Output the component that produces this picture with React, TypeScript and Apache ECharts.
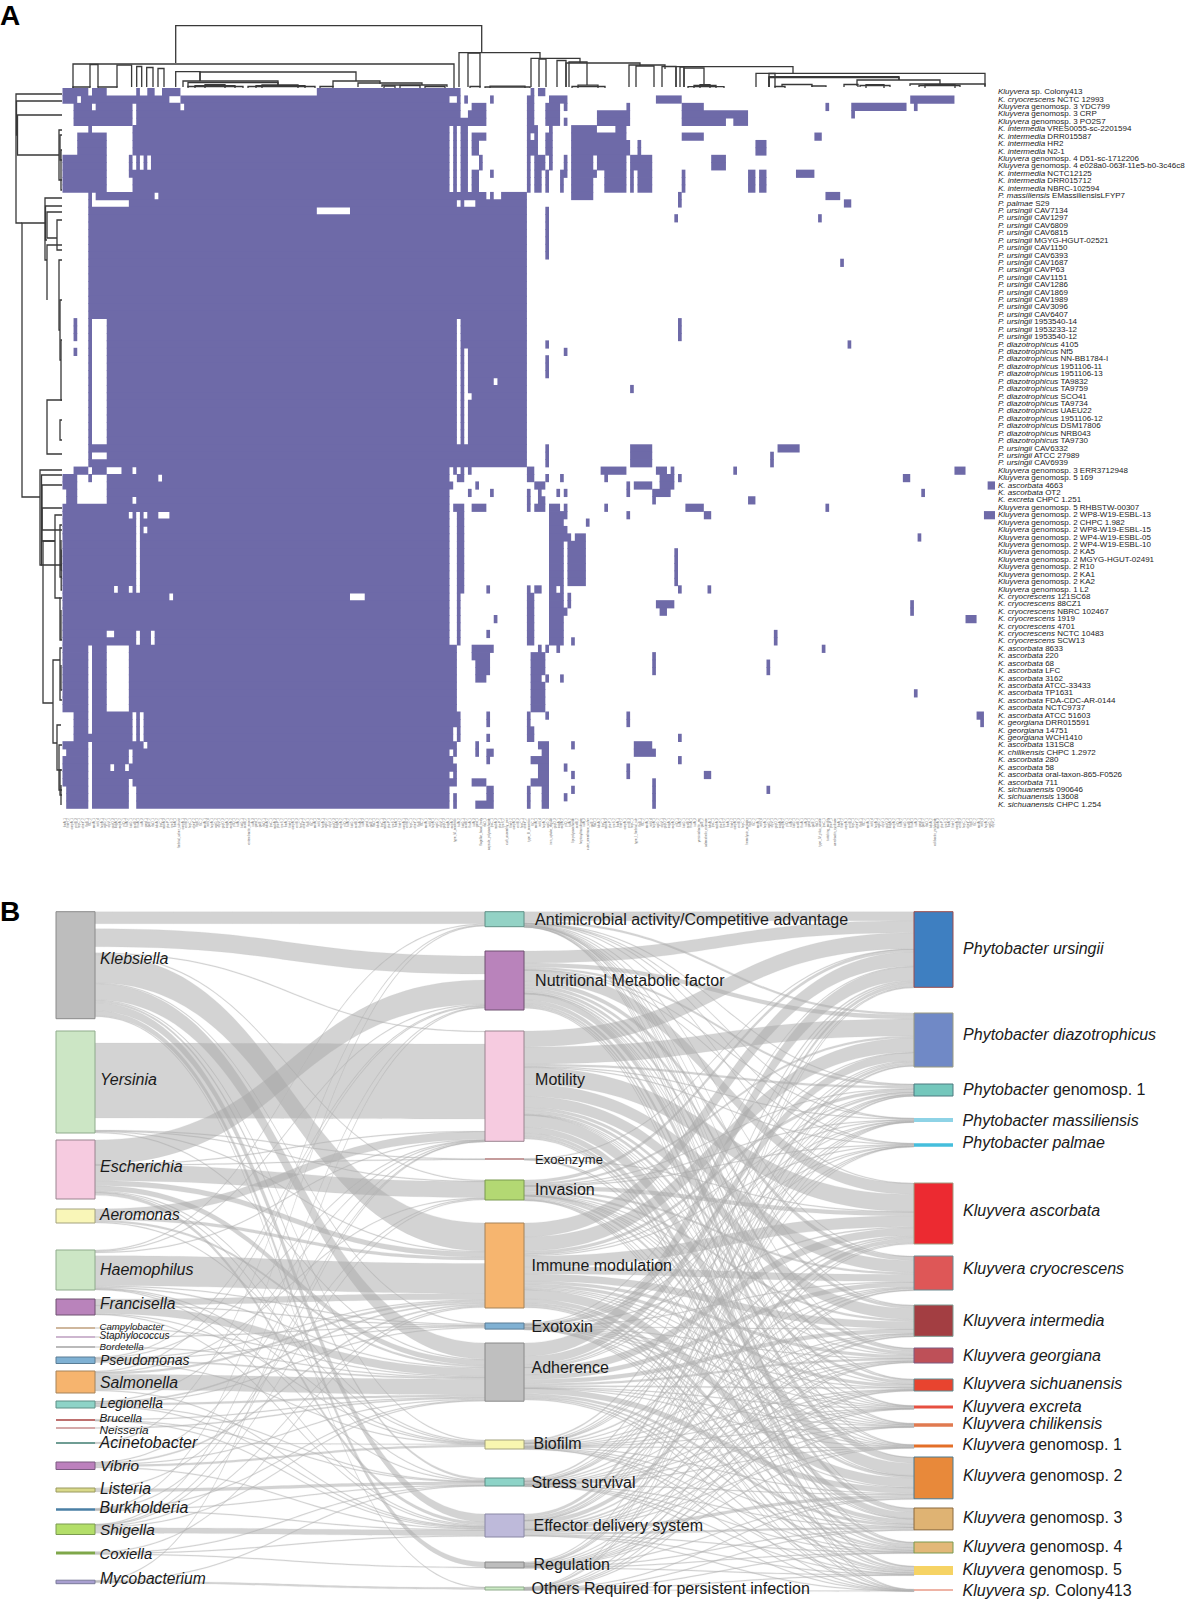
import React, { useEffect, useRef } from "react";
import * as echarts from "echarts";

const FONT = "Liberation Sans";
const HEAT = "#6e6aa8";

/* ---------- Panel A: rows ---------- */
const rowItalic = [
  "Kluyvera","K. cryocrescens","Kluyvera","Kluyvera","Kluyvera","K. intermedia","K. intermedia","K. intermedia","K. intermedia","Kluyvera","Kluyvera","K. intermedia","K. intermedia","K. intermedia","P. massiliensis","P. palmae",
  "P. ursingii","P. ursingii","P. ursingii","P. ursingii","P. ursingii","P. ursingii","P. ursingii","P. ursingii","P. ursingii","P. ursingii","P. ursingii","P. ursingii","P. ursingii","P. ursingii","P. ursingii","P. ursingii","P. ursingii","P. ursingii",
  "P. diazotrophicus","P. diazotrophicus","P. diazotrophicus","P. diazotrophicus","P. diazotrophicus","P. diazotrophicus","P. diazotrophicus","P. diazotrophicus","P. diazotrophicus","P. diazotrophicus","P. diazotrophicus","P. diazotrophicus","P. diazotrophicus","P. diazotrophicus",
  "P. ursingii","P. ursingii","P. ursingii","Kluyvera","Kluyvera","K. ascorbata","K. ascorbata","K. excreta","Kluyvera","Kluyvera","Kluyvera","Kluyvera","Kluyvera","Kluyvera","Kluyvera","Kluyvera","Kluyvera","Kluyvera","Kluyvera","Kluyvera",
  "K. cryocrescens","K. cryocrescens","K. cryocrescens","K. cryocrescens","K. cryocrescens","K. cryocrescens","K. cryocrescens",
  "K. ascorbata","K. ascorbata","K. ascorbata","K. ascorbata","K. ascorbata","K. ascorbata","K. ascorbata","K. ascorbata","K. ascorbata","K. ascorbata",
  "K. georgiana","K. georgiana","K. georgiana","K. ascorbata","K. chilikensis","K. ascorbata","K. ascorbata","K. ascorbata","K. ascorbata","K. sichuanensis","K. sichuanensis","K. sichuanensis",
];
const rowStrain = [
  "sp. Colony413","NCTC 12993","genomosp. 3 YDC799","genomosp. 3 CRP","genomosp. 3 PO2S7","VRES0055-sc-2201594","DRR015587","HR2","N2-1","genomosp. 4 D51-sc-1712206","genomosp. 4 e028a0-063f-11e5-b0-3c46c8","NCTC12125","DRR015712","NBRC-102594","EMassiliensisLFYP7","S29",
  "CAV7134","CAV1297","CAV6809","CAV6815","MGYG-HGUT-02521","CAV1150","CAV6393","CAV1687","CAVP63","CAV1151","CAV1286","CAV1869","CAV1989","CAV3096","CAV6407","1953540-14","1953233-12","1953540-12",
  "4105","Nf5","NN-BB1784-I","1951106-11","1951106-13","TA9832","TA9759","SCO41","TA9734","UAEU22","1951106-12","DSM17806","NRB043","TA9730",
  "CAV6332","ATCC 27989","CAV6939","genomosp. 3 ERR3712948","genomosp. 5 169","4663","OT2","CHPC 1.251","genomosp. 5 RHBSTW-00307","genomosp. 2 WP8-W19-ESBL-13","genomosp. 2 CHPC 1.982","genomosp. 2 WP8-W19-ESBL-15","genomosp. 2 WP4-W19-ESBL-05","genomosp. 2 WP4-W19-ESBL-10","genomosp. 2 KA5","genomosp. 2 MGYG-HGUT-02491","genomosp. 2 R10","genomosp. 2 KA1","genomosp. 2 KA2","genomosp. 1 L2",
  "121SC68","88CZ1","NBRC 102467","1919","4701","NCTC 10483","SCW13",
  "8633","220","68","LFC","3162","ATCC-33433","TP1631","FDA-CDC-AR-0144","NCTC9737","ATCC 51603",
  "DRR015591","14751","WCH1410","131SC8","CHPC 1.2972","280","58","oral-taxon-865-F0526","711","090646","13608","CHPC 1.254",
];

/* Present-gene runs per row, as column index ranges */
const heatRuns = [
  "0-6,8-11,20,23-24,27-31,69-107,127,129-130",
  "0-3,5-28,32-104,107,109,116,126-127,132-136,161-167,230-241",
  "3-7,9-18,20-31,33-107,111-114,126-127,131-134,136,153,168-173,207,214-228,231",
  "3-18,20-107,110-114,126-127,131-134,145-153,168-185,214",
  "3-18,20-114,126-127,131-134,136,145-153,168-179,182-185",
  "7,19-104,106,108-109,126-128,132,138-144,150-152",
  "4-11,19-104,106,108-109,111-114,126,128,131-132,138-152,168-173,204-205",
  "4-11,19-104,106,108-109,111-112,126-128,131-132,138-153,156,188-190",
  "4-11,19-104,106,108-109,111-112,126-128,131-132,138-153,156,188-190",
  "0-11,18,20,22,24-104,106,108-109,113,126,128-130,132,136,138-143,145-152,154-159,176-179",
  "0-11,18,20,22,24-104,106,108-109,113,126,128-130,132,136,138-143,145-152,154-159,176-179",
  "0-11,18-104,106,108-109,111-112,116,126,128-129,131,135-136,138-144,147-152,154,156-159,168,186-187,189-190,199-203",
  "0-11,19-104,106,108-109,111-112,126,128-129,131,135,138-143,147-152,154,156-159,168,186-187,189-190",
  "0-11,19-104,106,108-109,111-112,126,128-129,131,135,138-143,147-152,154,156-159,168,186-187,189-190",
  "7,9-24,26-114,116,119-125,138-143,167,207-210",
  "7,18-106,108,112-125,167,212-213",
  "7-68,78-125,131",
  "7-125,131,166,205",
  "7-125,131","7-125,131","7-125,131","7-125,131","7-125,131",
  "7-125,211",
  "7-125","7-125","7-125","7-125","7-125","7-125","7-125",
  "3,7,12-106,108-125,167","3,7,12-106,108-125,167","3,7,12-106,108-125,167",
  "7,12-106,108-125,131,213",
  "3,7,12-106,108,110-125,136",
  "7,12-106,108,110-125,131","7,12-106,108,110-125,131","7,12-106,108,110-125,131",
  "7,12-106,108,110-116,118-125",
  "7,12-106,108,110-125,154",
  "7,12-106,108,111-125",
  "7,12-106,108,110-125","7,12-106,108,110-125","7,12-106,108,110-125","7,12-106,108,110-125","7,12-106,108,110-125","7,12-106,108,110-125",
  "7-125,131,154-159,194-199",
  "7,12-125,131,154-159,192",
  "7-125,131,154-159,192",
  "3-6,8-11,16-18,20-104,106,108,110,126-127,146-152,161-163,165,182,242-244",
  "0-3,7,12-25,27-104,107-108,126-127,131,135,147,162-165,167,228-229",
  "0-3,12-105,112,128-130,153,155-159,162-165,251-252",
  "1-3,12-104,110,116,126,129,134,136,153,160-164,233",
  "1-3,12-18,20-104,126,129-130,160,186-187",
  "0-104,106-108,111-114,126,128-130,132-134,136,147,169-173,207",
  "0-17,19,21,23-25,29-104,107-108,132-136,153,174-175,250-252",
  "0-19,21-104,107-108,132-135,142",
  "0-19,21,23-104,107-108,132-136",
  "0-19,21-104,107-108,132-137,139-141,232",
  "0-19,21-104,107-108,132-135,137-141",
  "0-19,21-104,107-108,132-135,137-141,166","0-19,21-104,107-108,132-135,137-141,166","0-19,21-104,107-108,132-135,137-141,166","0-19,21-104,107-108,132-135,137-141,166","0-19,21-104,107-108,132-135,137-141,166",
  "0-13,15-17,19,21-104,107-108,115,126,128-129,132-133,135,167,175",
  "0-28,30-77,82-104,107,126-127,132-135,137",
  "0-104,107,126-127,132-135,137,161-165,230",
  "0-104,107,126-127,132-136,162-163,230",
  "0-104,107,117,126-127,132-135,245-247",
  "0-104,107,126-127,132-135",
  "0-11,14-19,21-23,25-104,107,115,126-127,132-135,193",
  "0-19,21-23,25-104,107,126-127,132-135,138,193",
  "0-6,8-11,18-106,111-116,129,131,134,206",
  "0-6,8-11,18-106,111-115,127-130,160",
  "0-6,8-11,18-106,112-115,127-130,160,191",
  "0-6,8-11,18-106,112-115,127-130,160,191",
  "0-6,8-11,18-106,112-114,127-129,131,135",
  "0-6,8-11,18-106,127-130",
  "0-6,8-11,18-106,127-130,231",
  "0-6,8-11,18-106,127-130",
  "0-6,8-11,18-106,127-130",
  "3-6,8-18,20,22-107,115,126,131,153,248-249",
  "3-6,8-18,20,22-107,115,126,153,249",
  "3-6,8-18,20,22-105,107,126-127",
  "3-18,20,22-105,107,115,126-127,167",
  "0-6,8-21,23-106,112,129-131,138,155-159",
  "1-6,8-17,19-104,106,112,115-116,130-131,155-160",
  "0-6,8-17,19-105,115,127-131,167",
  "0-6,8-12,14-16,18-106,129-131,136,153",
  "0-6,8-104,106,129-131,138,153,174-175",
  "0-6,8-17,19-106,111-114,127-131,160",
  "1-6,8-17,20-104,115-116,126,130-131,138,160,191",
  "1-6,8-17,20-104,106,115-116,126,130-131,136,160",
  "1-6,8-17,20-104,106,112-116,126,130-131,160",
];

/* Column labels are illegible in the reference: representative gene names */
const COLUMN_COUNT = 253;
const geneStems = ["fimA_1","fimH_2","ompA_1","entB_3","fepC_1","cheY_2","flgB_1","fliC_2","motA_1","iroN_4","hcpA_1","vgrG_2","clpV_1","gspD_3","csgA_1","ecpA_2","pilQ_1","tufA_2","katG_1","sodB_2","fhuA_1","iutA_3","gmd_1","galE_2","rfaD_1","kdsA_2","lpxC_1","msbA_3","phoP_1","rpoS_2"];
const longGenes: Record<number, string> = {
  31: "fimbrial_usher_subunit", 50: "enterobactin_export", 106: "type_VI_secretion", 113: "flagellar_basal_body", 115: "capsule_polysaccharide", 120: "curli_assembly_prot", 126: "type_III_secretion", 132: "iron_uptake_regulat",
  138: "lipopolysaccharide", 140: "heptosyltransferase", 142: "outer_membrane_usher", 155: "type_I_fimbrial_sub", 172: "yersiniabactin_rec", 174: "salmochelin_esterase", 185: "hemolysin_activator", 205: "type_IV_pilus_assem", 207: "twitching_motility", 209: "aerobactin_synthase", 236: "colibactin_polyketide",
};
const geneColumns = Array.from({ length: COLUMN_COUNT }, (_, i) => longGenes[i] || geneStems[i % geneStems.length]);

/* Dendrograms. Each merge: [leaf position 1, height 1, leaf position 2, height 2, merge height] */
const topMerges = [
  [175.7,25,481.7,35.3,62.3],[73,0,454,0,24],[90,1,98,1,23.5],[117,1,131.6,1,22.8],[136.7,1,141.7,1,21.5],[146.7,1,153,1,20.5],[158,1,164,1,19.5],[175.7,1,200,7,16.3],[200,7,356,7,16],
  [183,1,278,3,7],[188,1,278,3,5.5],[188,0,243,0,1.5],[195,0,235,0,2.4],[205,0,225,0,3.4],[248,0,315,0,1.5],[256,0,305,0,2.4],[262,0,298,0,3.2],[320,0,333,0,1.5],
  [333,1,380,4,7],[358,1,422,3,5],[382,1,447,1,3],[384,0,395,0,2],[400,0,420,0,2.5],[425,0,445,0,1.5],
  [73,0,90,0,1],[98,0,117,0,1],[459,1,540,30,35.3],[468,1,480,1,35],[470,0,480,0,1.5],[485,0,530,0,1],[490,0,525,0,1.8],
  [531,1,580,25,29.7],[539,1,546,1,29],[557,1,566,1,27.5],[569,1,587,3,26],[566,1,640,22,25],[572,0,605,0,1.5],[578,0,598,0,2.8],
  [629,1,665,19,23],[636,1,654,1,22],[662,1,676,1,21.5],[676,1,793,15,21.3],[680,1,684,1,21],[684,1,704,3,20],[688,0,724,0,1.3],[694,0,716,0,2.6],[700,0,710,0,3.4],
  [756,1,985,1,14.7],[769,1,775,1,14.5],[769,1,899,8,11.3],[769,1,899,8,10.4],[857,2,940,2,8],[844,1,858,1,3.5],[910,2,985,2,4],[919,1,960,1,2.5],[925,0,955,0,3.4],[860,1,890,1,2.5],[866,0,884,0,3.4],[782,1,812,1,3.5],[812,1,826,1,2],[775,0,785,0,1.5],
];
/* Each merge: [row position 1, distance 1, row position 2, distance 2, merge distance] */
const leftMerges = [
  [94,62,223,22,16],[101,62,135,17.5,16.5],[115,62,155,59,17.5],[130,62,180,62,59],[135,62,160,62,60],[150,62,190,62,61],
  [223,45,497,40,22],[198,62,260,47,45],[206,62,240,47,45.5],[212,62,238,57,47],[220,62,250,62,57],[245,62,300,47,47],[260,62,330,60,59],[300,62,360,61,60],[340,62,400,62,61],
  [400,62,454,62,47],[420,62,440,62,60],[470,62,565,42,40],[475,62,565,62,41.5],[485,62,541,55,42],[508,62,530,62,42],
  [541,55,703,53,43],[515,62,598,60,55],[525,62,577,62,60],[540,61,570,62,61],[550,61.5,590,62,61.2],[598,62,640,62,60],[610,61,640,61,61],
  [660,60,743,57,53],[648,62,700,62,60],[665,61,690,62,61],[725,61,770,61,57],[745,62,790,62,59],[770,62,795,62,60],[785,61,805,61,61],
];

/* ---------- Panel B: nodes ---------- */
const genera = ["Klebsiella","Yersinia","Escherichia","Aeromonas","Haemophilus","Francisella","Campylobacter","Staphylococcus","Bordetella","Pseudomonas","Salmonella","Legionella","Brucella","Neisseria","Acinetobacter","Vibrio","Listeria","Burkholderia","Shigella","Coxiella","Mycobacterium"];
const generaValues = [107,102,59,14,40,16,0.8,0.8,0.8,6.5,22,7,1.5,1.2,1.5,7.5,4,2.5,10.5,3,3.5];
const functions = ["Antimicrobial activity/Competitive advantage","Nutritional Metabolic factor","Motility","Exoenzyme","Invasion","Immune modulation","Exotoxin","Adherence","Biofilm","Stress survival","Effector delivery system","Regulation","Others Required for persistent infection"];
const functionValues = [15,59,110,1,20,85,6,58,9,8,23,6,3];
const species = ["Phytobacter ursingii","Phytobacter diazotrophicus","Phytobacter genomosp. 1","Phytobacter massiliensis","Phytobacter palmae","Kluyvera ascorbata","Kluyvera cryocrescens","Kluyvera intermedia","Kluyvera georgiana","Kluyvera sichuanensis","Kluyvera excreta","Kluyvera chilikensis","Kluyvera genomosp. 1","Kluyvera genomosp. 2","Kluyvera genomosp. 3","Kluyvera genomosp. 4","Kluyvera genomosp. 5","Kluyvera sp. Colony413"];
const speciesValues = [75,54,12,4,3.5,61,34,31,15,12,3,3.5,3,41,21,11,9,1.5];

/* genus -> function flows; the fourth entry marks an unpainted offset inside a node */
const [ANT,NUT,MOT,EXE,INV,IMM,EXT,ADH,BIO,STR,EFF,REG,OTH] = functions;
const genusFlows: [string,string,number,number?][] = [
  ["Klebsiella",ANT,12],["Klebsiella",NUT,5,1],["Klebsiella",NUT,18],["Klebsiella",NUT,6,1],["Klebsiella",MOT,1],["Klebsiella",INV,1],["Klebsiella",IMM,28],["Klebsiella",EXT,1],["Klebsiella",ADH,16],["Klebsiella",BIO,1],["Klebsiella",STR,2],["Klebsiella",EFF,8],["Klebsiella",REG,5],["Klebsiella",OTH,0.5],
  ["Yersinia",MOT,12,1],["Yersinia",MOT,75],["Yersinia",MOT,12,1],["Yersinia",EXE,0.5],["Yersinia",INV,0.5],["Yersinia",IMM,1],["Yersinia",ADH,1],
  ["Escherichia",NUT,24],["Escherichia",MOT,0.5],["Escherichia",EXE,0.3],["Escherichia",INV,16],["Escherichia",IMM,5],["Escherichia",ADH,5],["Escherichia",BIO,1],["Escherichia",STR,0.5],["Escherichia",EFF,3],
  ["Aeromonas",MOT,8],["Aeromonas",IMM,3],["Aeromonas",ADH,2],["Aeromonas",BIO,0.5],
  ["Haemophilus",ANT,1],["Haemophilus",NUT,1],["Haemophilus",MOT,0.3],["Haemophilus",IMM,3.5,1],["Haemophilus",IMM,30],["Haemophilus",EXT,1],["Haemophilus",ADH,1.2],["Haemophilus",BIO,0.5],["Haemophilus",STR,0.5],["Haemophilus",EFF,1],
  ["Francisella",IMM,6],["Francisella",EXT,0.5],["Francisella",ADH,8],["Francisella",BIO,0.5],["Francisella",EFF,0.5],
  ["Campylobacter",ADH,0.8],["Staphylococcus",EXT,0.8],["Bordetella",ADH,0.8],
  ["Pseudomonas",NUT,0.8],["Pseudomonas",MOT,0.3],["Pseudomonas",IMM,1],["Pseudomonas",EXT,1],["Pseudomonas",ADH,1.5],["Pseudomonas",BIO,0.5],
  ["Salmonella",NUT,1],["Salmonella",INV,0.5],["Salmonella",IMM,2],["Salmonella",ADH,15.5],["Salmonella",EFF,0.5],
  ["Legionella",MOT,0.3],["Legionella",IMM,1.5],["Legionella",EXT,0.5],["Legionella",ADH,2],["Legionella",STR,0.5],["Legionella",EFF,1],
  ["Brucella",ADH,0.7],["Brucella",STR,0.3],["Brucella",EFF,0.5],["Neisseria",ADH,1.2],
  ["Acinetobacter",ANT,0.5],["Acinetobacter",BIO,1],
  ["Vibrio",MOT,0.5],["Vibrio",IMM,1.5],["Vibrio",ADH,1],["Vibrio",BIO,2],["Vibrio",EFF,1],
  ["Listeria",INV,1],["Listeria",STR,3],
  ["Burkholderia",ANT,0.5],["Burkholderia",MOT,0.2],["Burkholderia",ADH,0.5],["Burkholderia",STR,0.3],["Burkholderia",EFF,0.5],
  ["Shigella",NUT,0.5],["Shigella",MOT,0.2],["Shigella",INV,1],["Shigella",IMM,1],["Shigella",ADH,1],["Shigella",EFF,5.5],
  ["Coxiella",IMM,1],["Coxiella",STR,0.3],["Coxiella",EFF,1],["Coxiella",REG,0.5],
  ["Mycobacterium",NUT,0.5],["Mycobacterium",STR,0.3],["Mycobacterium",OTH,2],
];

/* function -> species flows, rows follow `functions`, columns follow `species` */
const functionFlows = [
  [9,2,0.3,0.1,0.1,0.5,0.5,0.5,0.3,0.2,0.1,0.1,0.1,0.4,0.3,0.2,0.2,0.1],
  [12,4,2,0.5,0.5,11,4,3,3,1.5,0.3,0.5,0.4,6,4,2,1.5,0.2],
  [16,17,2,0.8,0.5,17,12,11,3,3,0.6,0.6,0.6,12,6,3,2,0.3],
  [0.2,0,0,0,0,0.3,0,0,0,0,0,0,0,0.3,0.2,0,0,0],
  [3,2,0.5,0.1,0.1,4,2,2,0.8,0.5,0.1,0.2,0.1,2.5,1,0.5,0.5,0.1],
  [14,14,3,1,1,11,7,7,3,3,1,1,0.8,9,4,2,2,0.2],
  [0.8,0.5,0.2,0.1,0.1,1.2,0.5,0.5,0.2,0.2,0.1,0.1,0.1,0.6,0.4,0.2,0.2,0.1],
  [13.5,8,2,0.6,0.4,7.5,4.5,4,2,1.5,0.4,0.5,0.4,5.5,2.5,1.5,1.2,0.2],
  [1.5,1,0.3,0.1,0.1,1.5,0.8,0.6,0.3,0.3,0.1,0.1,0.1,0.8,0.5,0.3,0.2,0.1],
  [1.5,1,0.3,0.1,0.1,1.2,0.6,0.6,0.3,0.2,0.1,0.1,0.1,0.8,0.4,0.2,0.2,0.1],
  [3,2.5,0.6,0.2,0.2,4,1.5,1.5,0.8,0.6,0.2,0.2,0.2,3,2,0.5,0.5,0.1],
  [0.8,0.6,0.2,0.1,0,1,0.4,0.4,0.2,0.2,0.1,0.1,0.1,0.6,0.4,0.2,0.2,0],
  [0.3,0.3,0.1,0,0,0.5,0.2,0.2,0.1,0.1,0,0,0,0.3,0.2,0.1,0.1,0.1],
];

/* Layout and style of the nodes, kept apart from the values */
const SANKEY_TOP = 911.7, SANKEY_H = 680;
const generaTops = [911.7,1031,1140,1209,1250,1299,1327.6,1336.6,1346.6,1357,1371,1401,1419.2,1427.4,1442.2,1462,1488,1508.2,1524,1551.5,1580.2];
const generaColors = ["#bdbdbd","#cce6c5","#f6cbe0","#f9f6b8","#cce6c5","#b983bb","#a0703c","#9b6fa0","#777777","#7fb1d3","#f6b46e","#8dd3c7","#a8403f","#ac5555","#3f7c70","#bc80bd","#d9d98a","#4a7fa5","#b3de69","#7fa74a","#a89fd0"];
const generaBorders = ["#8a8a8a","#8fab8c","#9a8590","#a3a27e","#8fab8c","#6f5070","","","","#5a7d95","#a5835a","#5f8f86","","","","#7a5a80","#9a9a60","","#7a9a50","","#7a7a9a"];
const generaLabelDy = [-7,-3,-3.5,-2,-1,-3.5,-1.5,-1.5,-1,0,0,-1.5,-2,2,0,0,-2,-1.5,0,1,-3];
const generaFont = [16,16,16,15.6,16,15.6,9.6,10,9.8,14,15.8,13.8,11.8,11.8,16,15.4,15.8,15.8,15.4,14.8,15.6];
const functionTops = [911.7,951,1031,1158.5,1180,1223,1323,1343,1440,1478,1514,1562,1587];
const functionColors = ["#93d2c5","#b983bb","#f6cbe0","#8b3a3a","#b3d873","#f6b56f","#80b1d3","#bfbfbf","#f8f6b0","#8dd3c7","#bebada","#bdbdbd","#ccebc5"];
const functionBorders = ["#5f8f86","#6f5070","#9a8590","","#7a9a50","#a5835a","#5a7d95","#8a8a8a","#a3a27e","#5f8f86","#8a88a5","#8a8a8a","#8fab8c"];
const functionLabelDy = [0,0,-7,0,-1,0,0,-5,-1,0,0,-1,0];
const functionLabelGap = [10.6,10.6,10.6,11,10.6,7,7,7,9,7,9,9,7];
const functionFont = [16,16,16,13,16,16,16,16,16,16,16,16,16];
const speciesTops = [911.7,1013,1084,1118,1143.2,1183,1256,1305,1348,1379,1405.5,1423.2,1444.5,1457,1508,1542,1566,1589.2];
const speciesColors = ["#3e7fc1","#7089c6","#74c7bc","#8ed3e6","#45bedc","#ec2a31","#de5757","#a33e42","#be5058","#e8442f","#e64f40","#e07a50","#e36f28","#e8893a","#dfb373","#e2b878","#f6d364","#e99a87"];
const speciesBorders = ["#9a4a4a","#9a9a80","#4d7a80","","","#a09a80","#6a8a90","#7a9a90","#7a5a80","#5a8a90","","","","#4a7a90","#8a6a40","#7a9a50","",""];
const speciesLabelDy = [-1,-6,-1,0,-2,-3.5,-5,0,0,-2,-1,-1,-2,-2.5,-1.5,-1.5,-1.5,0];

const parseRuns = (s: string, r: number) =>
  s.split(",").map((part) => {
    const [a, b] = part.split("-").map(Number);
    return [a, b === undefined ? a : b, r];
  });

const italicSplit = (name: string) => {
  if (name.endsWith("Colony413")) return `{i|Kluyvera sp.}{n| Colony413}`;
  const m = name.match(/^(\S+) (genomosp\. \d)$/);
  return m ? `{i|${m[1]}}{n| ${m[2]}}` : `{i|${name}}`;
};
const richStyle = (size: number) => ({
  i: { fontStyle: "italic", fontSize: size, fontFamily: FONT, color: "#1a1a1a" },
  n: { fontSize: size, fontFamily: FONT, color: "#1a1a1a" },
});

const bracketRender = (horizontalLeaves: boolean) => (_: any, api: any) => {
  const v = [0, 1, 2, 3, 4].map((i) => api.value(i));
  const pts = horizontalLeaves
    ? [[v[0], v[1]], [v[0], v[4]], [v[2], v[4]], [v[2], v[3]]]
    : [[v[1], v[0]], [v[4], v[0]], [v[4], v[2]], [v[3], v[2]]];
  return {
    type: "polyline",
    shape: { points: pts.map((p) => api.coord(p)) },
    style: { stroke: "#383838", fill: "none", lineWidth: 1.3 },
  };
};

export default function App() {
  const ref = useRef<HTMLDivElement>(null);
  useEffect(() => {
    const chart = echarts.init(ref.current!, undefined, { renderer: "svg" });

    const runs = heatRuns.flatMap((s, r) => parseRuns(s, r));
    const rowNames = rowStrain.map((s, i) => `${rowItalic[i]} ${s}`);

    const mkNode = (name: string, value: number, top: number, color: string, border: string, dy: number, gap: number, font: number, rich: boolean) => ({
      name,
      value,
      localY: (top - SANKEY_TOP) / SANKEY_H,
      itemStyle: { color, borderColor: border || color, borderWidth: border ? 1 : 0, opacity: 1 },
      label: {
        show: true,
        position: "right",
        distance: gap,
        offset: [0, dy],
        formatter: rich ? italicSplit(name) : `{n|${name}}`,
        rich: richStyle(font),
      },
    });
    const nodes = [
      ...genera.map((n, i) => mkNode(n, generaValues[i], generaTops[i], generaColors[i], generaBorders[i], generaLabelDy[i], 4.5, generaFont[i], true)),
      ...functions.map((n, i) => mkNode(n, functionValues[i], functionTops[i], functionColors[i], functionBorders[i], functionLabelDy[i], functionLabelGap[i], functionFont[i], false)),
      ...species.map((n, i) => mkNode(n, speciesValues[i], speciesTops[i], speciesColors[i], speciesBorders[i], speciesLabelDy[i], 9.6, 16, true)),
    ];
    const links: any[] = genusFlows.map(([source, target, value, hidden]) => ({
      source, target, value,
      ...(hidden ? { lineStyle: { opacity: 0 } } : {}),
    }));
    functionFlows.forEach((row, i) =>
      row.forEach((value, j) => {
        if (value > 0) links.push({ source: functions[i], target: species[j], value });
      })
    );

    const outSum = (name: string) => genusFlows.filter((f) => f[0] === name).reduce((a, f) => a + f[2], 0);
    const leftSum = genera.reduce((a, g, i) => a + Math.max(generaValues[i], outSum(g)), 0);
    const nodeGap = (SANKEY_H - leftSum) / (genera.length - 1);

    chart.setOption({
      animation: false,
      backgroundColor: "#ffffff",
      textStyle: { fontFamily: FONT },
      grid: [
        { left: 62.5, top: 88, width: 932.5, height: 720 },
        { left: 62.5, top: 25, width: 932.5, height: 63 },
        { left: 14, top: 88, width: 48.5, height: 720 },
      ],
      xAxis: [
        {
          gridIndex: 0, type: "category", data: geneColumns,
          axisLine: { show: false }, axisTick: { show: false },
          axisLabel: { interval: 0, rotate: 90, fontSize: 3, margin: 10, color: "#6e6e6e", fontFamily: FONT },
        },
        { gridIndex: 1, type: "value", min: 62.5, max: 995, show: false },
        { gridIndex: 2, type: "value", min: 14, max: 62.5, show: false },
      ],
      yAxis: [
        {
          gridIndex: 0, type: "category", data: rowNames, inverse: true, position: "right",
          axisLine: { show: false }, axisTick: { show: false },
          axisLabel: {
            interval: 0, margin: 3, lineHeight: 8,
            formatter: (_: string, i: number) => `{i|${rowItalic[i]}}{n| ${rowStrain[i]}}`,
            rich: richStyle(8),
          },
        },
        { gridIndex: 1, type: "value", min: 0, max: 63, show: false },
        { gridIndex: 2, type: "value", min: 88, max: 808, inverse: true, show: false },
      ],
      series: [
        {
          type: "custom", xAxisIndex: 0, yAxisIndex: 0, clip: false, silent: true,
          data: runs, encode: { x: [0, 1], y: 2 },
          renderItem: (_: any, api: any) => {
            const p0 = api.coord([api.value(0), api.value(2)]);
            const p1 = api.coord([api.value(1), api.value(2)]);
            const s = api.size([1, 1]);
            return {
              type: "rect",
              shape: { x: p0[0] - s[0] / 2, y: p0[1] - s[1] / 2, width: p1[0] - p0[0] + s[0], height: s[1] + 0.8 },
              style: { fill: HEAT },
            };
          },
        },
        {
          type: "custom", xAxisIndex: 1, yAxisIndex: 1, clip: false, silent: true,
          data: topMerges, encode: { x: [0, 2], y: [1, 3, 4] },
          renderItem: bracketRender(true),
        },
        {
          type: "custom", xAxisIndex: 2, yAxisIndex: 2, clip: false, silent: true,
          data: leftMerges, encode: { x: [1, 3, 4], y: [0, 2] },
          renderItem: bracketRender(false),
        },
        {
          type: "sankey",
          left: 56, top: SANKEY_TOP, width: 897, height: SANKEY_H,
          nodeWidth: 39, nodeGap, layoutIterations: 0, nodeAlign: "justify", draggable: false,
          emphasis: { disabled: true },
          lineStyle: { color: "#a8a8a8", opacity: 0.5, curveness: 0.5, borderColor: "#c4c4c4", borderWidth: 0.35 },
          data: nodes, links,
        },
      ],
      graphic: [
        { type: "text", left: 0, top: 1, style: { text: "A", font: `bold 28px "${FONT}"`, fill: "#000" } },
        { type: "text", left: 0, top: 897, style: { text: "B", font: `bold 28px "${FONT}"`, fill: "#000" } },
      ],
    });
    return () => chart.dispose();
  }, []);
  return <div ref={ref} style={{ position: "absolute", left: 0, top: 0, width: 1191, height: 1604 }} />;
}
